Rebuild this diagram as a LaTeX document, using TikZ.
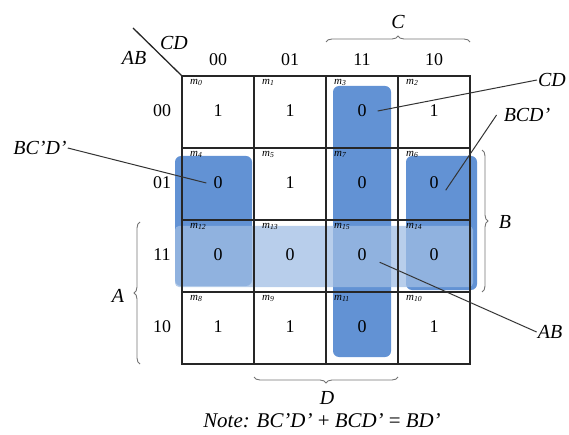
\documentclass[tikz,border=0pt]{standalone}
\usepackage{fontspec}
\setmainfont{Liberation Serif}
\usetikzlibrary{positioning,decorations.pathreplacing}

\definecolor{kdark}{RGB}{98,146,212}
\definecolor{klight}{RGB}{160,190,228}

\begin{document}
\begin{tikzpicture}[x=1bp, y=-1bp,
every node/.style={inner sep=1pt},
val/.style={font=\fontsize{18}{20}\selectfont},
idx/.style={font=\fontsize{11}{12}\selectfont\itshape, anchor=north west},
lbl/.style={font=\fontsize{20}{22}\selectfont\itshape},
grp/.style={fill=kdark, rounded corners=6bp},
strip/.style={fill=klight, fill opacity=0.75, rounded corners=4bp},
grid/.style={line width=1.3bp, black!85},
conn/.style={line width=1bp, black!80},
brc/.style={decorate, decoration={brace, amplitude=6bp}, line width=0.9bp, black!55}]
\useasboundingbox (0,0) rectangle (569,435);
% groups of zeros
\fill[grp] (333,86) rectangle (391,357);
\fill[grp] (175,156) rectangle (252,286);
\fill[grp] (406,156) rectangle (477,290);
\fill[strip] (175,226) rectangle (473,287);
% the map
\coordinate (corner) at (182,76);
\coordinate (diag) at (133,28);
\draw[grid] (corner) rectangle (470,364);
\foreach \k in {1,2,3} {
  \draw[grid] ({182+72*\k},76) -- ({182+72*\k},364);
  \draw[grid] (182,{76+72*\k}) -- (470,{76+72*\k});
}
\draw[grid] (diag) -- (corner);
\node[lbl] (ab) at (134,58) {AB};
\node[lbl] (cd) at (174,43) {CD};
\foreach \t [count=\k from 0] in {00,01,11,10} {
  \node[val] (col\k) at ({218+72*\k},60) {\t};
  \node[val] (row\k) at (162,{111+72*\k}) {\t};
}
% cells: minterm/column/row/value
\foreach \m/\i/\j/\v in {0/0/0/1, 1/1/0/1, 3/2/0/0, 2/3/0/1,
  4/0/1/0, 5/1/1/1, 7/2/1/0, 6/3/1/0,
  12/0/2/0, 13/1/2/0, 15/2/2/0, 14/3/2/0,
  8/0/3/1, 9/1/3/1, 11/2/3/0, 10/3/3/1} {
  \node[val] (v\m) at ({218+72*\i},{111+72*\j}) {\v};
  \node[idx] (m\m) at ({189+72*\i},{78+72*\j}) {m\textsubscript{\m}};
}
% braces
\draw[brc] (326,42) -- (470,42);
\node[lbl] (c) at (398,22) {C};
\draw[brc] (398,377) -- (254,377);
\node[lbl] (d) at (327,398) {D};
\draw[brc] (482,150) -- (482,292);
\node[lbl] (b) at (505,222) {B};
\draw[brc] (140,364) -- (140,222);
\node[lbl] (a) at (118,296) {A};
% labels of the groups
\node[lbl] (lcd) at (552,80) {CD};
\node[lbl] (lbcd) at (527,115) {BCD'};
\node[lbl] (lbccd) at (40,148) {BC'D'};
\node[lbl] (lab) at (550,332) {AB};
\draw[conn] (lcd.west) -- ([xshift=10bp]v3.east);
\draw[conn] ([xshift=-6bp]lbcd.west) -- ([xshift=6bp]v6.south east);
\draw[conn] (lbccd.east) -- ([xshift=-6bp]v4.west);
\draw[conn] (lab.west) -- ([xshift=12bp]v15.south east);
\node[lbl, font=\fontsize{21}{23}\selectfont\itshape] (note) at (322,421) {Note: BC'D' \textup{+} BCD' \textup{=} BD'};
\end{tikzpicture}
\end{document}
